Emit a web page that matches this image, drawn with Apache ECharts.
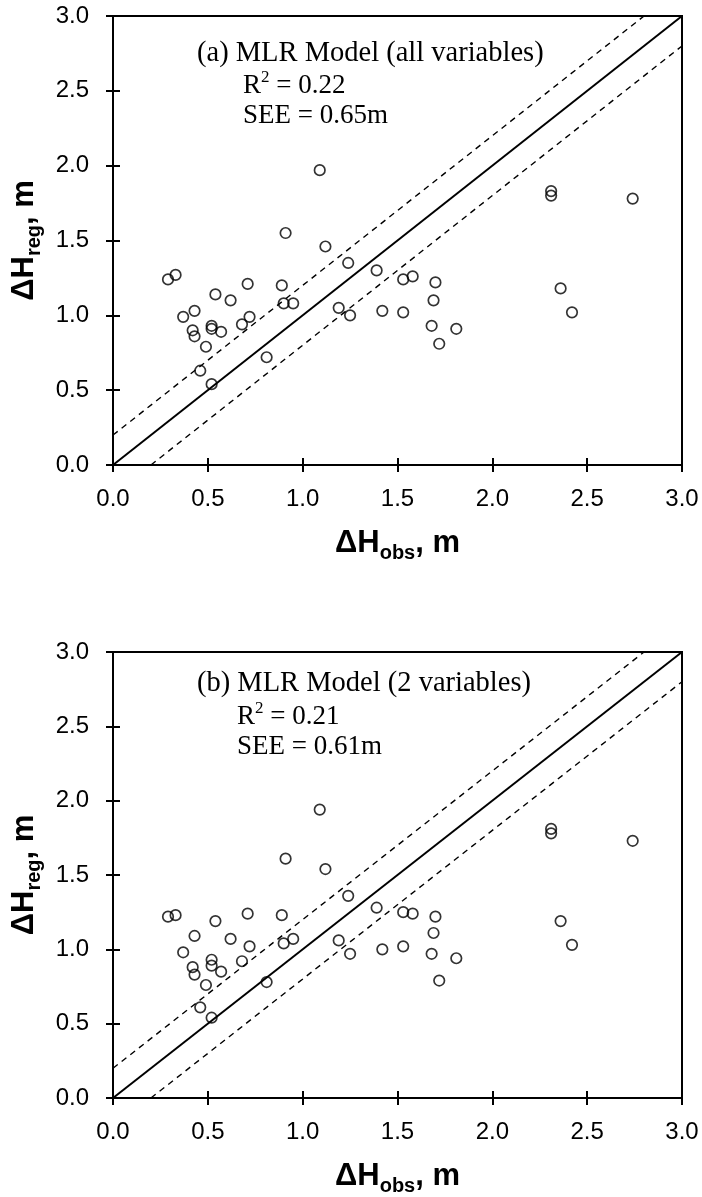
<!DOCTYPE html>
<html>
<head>
<meta charset="utf-8">
<script src="https://cdn.jsdelivr.net/npm/echarts@6/dist/echarts.min.js"></script>
<style>
  html,body{margin:0;padding:0;background:#fff;}
  #chart{width:702px;height:1197px;}
</style>
</head>
<body>
<div id="chart"></div>
<script>
"use strict";

// observed change (shared by both panels)
var obs=[0.29,0.33,0.54,0.62,0.71,0.37,0.43,0.42,0.43,0.52,0.52,0.57,0.68,0.72,0.49,0.46,0.52,0.81,
  0.89,0.90,0.95,0.91,1.12,1.24,1.19,1.25,1.39,1.42,1.09,1.53,1.58,1.70,1.69,1.53,1.68,1.81,1.72,
  2.36,2.42,2.31,2.31,2.74];
// (a) all variables
var regAll=[1.24,1.27,1.14,1.10,1.21,0.99,1.03,0.90,0.86,0.93,0.91,0.89,0.94,0.99,0.79,0.63,0.54,0.72,
  1.20,1.08,1.08,1.55,1.46,1.35,1.05,1.00,1.30,1.03,1.97,1.24,1.26,1.22,1.10,1.02,0.93,0.91,0.81,
  1.18,1.02,1.83,1.80,1.78];
// (b) 2 variables
var regTwo=[1.22,1.23,1.19,1.07,1.24,0.98,1.09,0.88,0.83,0.93,0.89,0.85,0.92,1.02,0.76,0.61,0.54,0.78,
  1.23,1.04,1.07,1.61,1.54,1.36,1.06,0.97,1.28,1.00,1.94,1.25,1.24,1.22,1.11,1.02,0.97,0.94,0.79,
  1.19,1.03,1.81,1.78,1.73];

var oneToOne=[[0,0],[3,3]];
var upperBand=[[0,0.2],[2.8,3]];
var lowerBand=[[0.2,0],[3,2.8]];

var axisMin=0, axisMax=3, axisStep=0.5;

var panelTitles=['(a) MLR Model (all variables)','(b) MLR Model (2 variables)'];
var panelR2=['0.22','0.21'];
var panelSEE=['0.65m','0.61m'];

var chart=echarts.init(document.getElementById('chart'));

var grids=[
  {left:113,top:16,width:569,height:449},
  {left:113,top:652,width:569,height:449}
];

var nameRich={
  b:{fontFamily:'Liberation Sans',fontSize:31,fontWeight:'bold',color:'#000',lineHeight:40,verticalAlign:'middle'},
  s:{fontFamily:'Liberation Sans',fontSize:20,fontWeight:'bold',color:'#000',lineHeight:16,verticalAlign:'bottom'}
};

function mainAxis(gi,isX){
  return {
    type:'value',gridIndex:gi,min:axisMin,max:axisMax,interval:axisStep,
    position:isX?'bottom':'left',
    name:isX?'{b|ΔH}{s|obs}{b|, m}':'{b|ΔH}{s|reg}{b|, m}',
    nameLocation:'middle',nameGap:isX?58:57,
    nameTextStyle:{rich:nameRich},
    axisLine:{show:true,lineStyle:{color:'#000',width:2}},
    axisTick:{show:true,inside:false,length:7,lineStyle:{color:'#000',width:2}},
    axisLabel:{margin:isX?22:24,color:'#000',fontFamily:'Liberation Sans',fontSize:24,
      formatter:function(v){return v.toFixed(1);}},
    splitLine:{show:false}
  };
}
// second axis on the same side only to make the ticks cross the axis line
function tickAxis(gi,isX){
  return {
    type:'value',gridIndex:gi,min:axisMin,max:axisMax,interval:axisStep,
    position:isX?'bottom':'left',
    axisLine:{show:false},
    axisTick:{show:true,inside:true,length:7,lineStyle:{color:'#000',width:2}},
    axisLabel:{show:false},
    splitLine:{show:false}
  };
}

var xAxes=[],yAxes=[],series=[],graphics=[];
var regs=[regAll,regTwo];
var txtX=[[197,243],[197,237]];
var txtTop=[[39,69,102],[669,700,733]];

for (var g=0;g<2;g++){
  xAxes.push(mainAxis(g,true));
  yAxes.push(mainAxis(g,false));
  xAxes.push(tickAxis(g,true));
  yAxes.push(tickAxis(g,false));
  var xi=g*2, yi=g*2;
  var pts=obs.map(function(x,i){return [x,regs[g][i]];});
  series.push({
    type:'line',xAxisIndex:xi,yAxisIndex:yi,data:oneToOne,showSymbol:false,silent:true,
    lineStyle:{color:'#000',width:2}
  });
  series.push({
    type:'line',xAxisIndex:xi,yAxisIndex:yi,data:upperBand,showSymbol:false,silent:true,
    lineStyle:{color:'#000',width:1.4,type:[6,5]}
  });
  series.push({
    type:'line',xAxisIndex:xi,yAxisIndex:yi,data:lowerBand,showSymbol:false,silent:true,
    lineStyle:{color:'#000',width:1.4,type:[6,5]}
  });
  series.push({
    type:'scatter',xAxisIndex:xi,yAxisIndex:yi,data:pts,symbol:'circle',symbolSize:10.5,
    itemStyle:{color:'rgba(0,0,0,0)',borderColor:'#000',borderWidth:1.7}
  });

  var serif='27px "Liberation Serif"';
  graphics.push({type:'text',left:txtX[g][0],top:txtTop[g][0],
    style:{text:panelTitles[g],font:'28.5px "Liberation Serif"',fill:'#000'}});
  graphics.push({type:'text',left:txtX[g][1],top:txtTop[g][1],
    style:{text:'{m|R}{p|2}{m| = '+panelR2[g]+'}',fill:'#000',
      rich:{m:{font:serif,lineHeight:30,verticalAlign:'bottom'},
            p:{font:'17px "Liberation Serif"',lineHeight:17,verticalAlign:'top'}}}});
  graphics.push({type:'text',left:txtX[g][1],top:txtTop[g][2],
    style:{text:'SEE = '+panelSEE[g],font:serif,fill:'#000'}});
}

chart.setOption({
  backgroundColor:'#fff',
  animation:false,
  grid:grids.map(function(r){
    return Object.assign({show:true,borderColor:'#000',borderWidth:2,backgroundColor:'transparent'},r);
  }),
  xAxis:xAxes,
  yAxis:yAxes,
  series:series,
  graphic:graphics
});
</script>
</body>
</html>
